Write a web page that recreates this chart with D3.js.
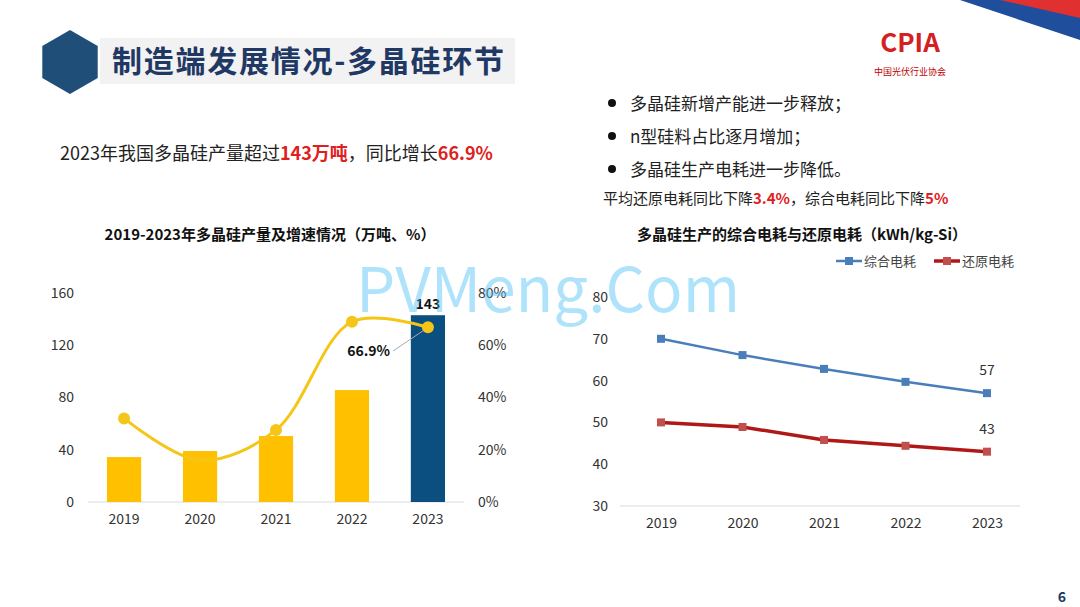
<!DOCTYPE html>
<html><head><meta charset="utf-8">
<script src="https://cdn.jsdelivr.net/npm/d3@7"></script>
<style>
body{margin:0;background:#fff;font-family:"Noto Sans CJK SC","Noto Sans",sans-serif;}
svg text{font-family:"Noto Sans CJK SC","Noto Sans",sans-serif;}
</style></head>
<body><svg id="c" width="1080" height="607"></svg>
<script>
const years = ['2019','2020','2021','2022','2023'];
const output = [34.4, 39, 50.5, 85.7, 143];
const growth = [32, 16, 27.6, 69, 66.9];
const powerTotal = [70, 66.1, 62.8, 59.7, 57];
const powerReduce = [50, 48.9, 45.8, 44.4, 43];
const leftTicks = [0, 40, 80, 120, 160];
const pctTicks = [0, 20, 40, 60, 80];
const rightTicks = [30, 40, 50, 60, 70, 80];

const svg = d3.select('#c');

// header
svg.append('path').attr('d', d3.line()(d3.range(6).map(i => {
  const a = Math.PI / 3 * i + Math.PI / 6;
  return [70 + 32 * Math.cos(a), 62 + 32 * Math.sin(a)];
})) + 'Z').attr('fill', '#1f4e79');
svg.append('rect').attr('x', 100).attr('y', 38).attr('width', 415).attr('height', 46).attr('fill', '#f2f2f2');
svg.append('text').attr('x', 112).attr('y', 72).attr('font-size', 30).attr('font-weight', 'bold')
  .attr('fill', '#1f3864').attr('textLength', 392).text('制造端发展情况-多晶硅环节');
// top-right decoration
svg.append('path').attr('d', 'M960,0 L1080,0 L1080,40 Z').attr('fill', '#1f4e9c');
svg.append('path').attr('d', 'M1000,0 L1080,0 L1080,18 Z').attr('fill', '#e03030');
svg.append('text').attr('x', 910).attr('y', 52).attr('text-anchor', 'middle').attr('font-size', 26)
  .attr('font-weight', 'bold').attr('fill', '#d42020').text('CPIA');
svg.append('text').attr('x', 910).attr('y', 75).attr('text-anchor', 'middle').attr('font-size', 9)
  .attr('fill', '#c00000').text('中国光伏行业协会');
svg.append('text').attr('x', 1062).attr('y', 602).attr('text-anchor', 'middle').attr('font-size', 14)
  .attr('font-weight', 'bold').attr('fill', '#1f3864').text('6');

// headline
const hl = svg.append('text').attr('x', 60).attr('y', 160).attr('font-size', 18).attr('fill', '#222');
hl.append('tspan').text('2023年我国多晶硅产量超过');
hl.append('tspan').attr('fill', '#e02020').attr('font-weight', 'bold').text('143万吨');
hl.append('tspan').text('，同比增长');
hl.append('tspan').attr('fill', '#e02020').attr('font-weight', 'bold').text('66.9%');

// bullets
['多晶硅新增产能进一步释放；', 'n型硅料占比逐月增加；', '多晶硅生产电耗进一步降低。'].forEach((t, i) => {
  svg.append('circle').attr('cx', 612).attr('cy', 103 + i * 33).attr('r', 4).attr('fill', '#111');
  svg.append('text').attr('x', 630).attr('y', 110 + i * 33).attr('font-size', 17).attr('fill', '#222').text(t);
});
const sub = svg.append('text').attr('x', 603).attr('y', 204).attr('font-size', 15).attr('fill', '#222');
sub.append('tspan').text('平均还原电耗同比下降');
sub.append('tspan').attr('fill', '#e02020').attr('font-weight', 'bold').text('3.4%');
sub.append('tspan').text('，综合电耗同比下降');
sub.append('tspan').attr('fill', '#e02020').attr('font-weight', 'bold').text('5%');

// left chart
svg.append('text').attr('x', 270).attr('y', 240).attr('text-anchor', 'middle').attr('font-size', 15)
  .attr('font-weight', 'bold').attr('fill', '#111').text('2019-2023年多晶硅产量及增速情况（万吨、%）');
const x1 = d3.scaleBand().domain(years).range([88, 464]).paddingInner(0.55).paddingOuter(0.25);
const y1 = d3.scaleLinear().domain([0, 160]).range([502, 293]);
const yp = d3.scaleLinear().domain([0, 80]).range([502, 293]);
svg.append('line').attr('x1', 88).attr('x2', 464).attr('y1', 502).attr('y2', 502).attr('stroke', '#d9d9d9');
const axL = svg.append('g').attr('transform', 'translate(80,0)')
  .call(d3.axisLeft(y1).tickValues(leftTicks).tickSize(0).tickPadding(6));
const axP = svg.append('g').attr('transform', 'translate(476,0)')
  .call(d3.axisRight(yp).tickValues(pctTicks).tickSize(0).tickPadding(2).tickFormat(d => d + '%'));
const axX1 = svg.append('g').attr('transform', 'translate(0,502)')
  .call(d3.axisBottom(x1).tickSize(0).tickPadding(12));
[axL, axP, axX1].forEach(g => { g.select('.domain').remove(); g.selectAll('text').attr('font-size', 14).attr('fill', '#333'); });
svg.selectAll('rect.bar').data(output).join('rect').attr('class', 'bar')
  .attr('x', (d, i) => x1(years[i])).attr('width', x1.bandwidth())
  .attr('y', d => y1(d)).attr('height', d => 502 - y1(d))
  .attr('fill', (d, i) => i === 4 ? '#0b4f80' : '#ffc000');
const cx = (d, i) => x1(years[i]) + x1.bandwidth() / 2;
svg.append('path').datum(growth)
  .attr('d', d3.line().x(cx).y(d => yp(d)).curve(d3.curveCatmullRom.alpha(0.5)))
  .attr('fill', 'none').attr('stroke', '#f5c518').attr('stroke-width', 3);
svg.selectAll('circle.g').data(growth).join('circle').attr('class', 'g')
  .attr('cx', cx).attr('cy', d => yp(d)).attr('r', 6).attr('fill', '#f5c518')
  .attr('visibility', (d, i) => i === 1 ? 'hidden' : null);
svg.append('text').attr('x', cx(0, 4)).attr('y', y1(143) - 6).attr('text-anchor', 'middle')
  .attr('font-size', 14).attr('font-weight', 'bold').attr('fill', '#111').text('143');
svg.append('line').attr('x1', 393).attr('y1', 351).attr('x2', cx(0, 4) - 4).attr('y2', yp(66.9) + 3)
  .attr('stroke', '#aaa');
svg.append('text').attr('x', 390).attr('y', 356).attr('text-anchor', 'end')
  .attr('font-size', 14).attr('font-weight', 'bold').attr('fill', '#111').text('66.9%');

// right chart
svg.append('text').attr('x', 802).attr('y', 240).attr('text-anchor', 'middle').attr('font-size', 15)
  .attr('font-weight', 'bold').attr('fill', '#111').text('多晶硅生产的综合电耗与还原电耗（kWh/kg-Si）');
const x2 = d3.scalePoint().domain(years).range([661, 987]);
const y2 = d3.scaleLinear().domain([30, 80]).range([506, 297]);
svg.append('line').attr('x1', 620).attr('x2', 1020).attr('y1', 506).attr('y2', 506).attr('stroke', '#d9d9d9');
const axR = svg.append('g').attr('transform', 'translate(610,0)')
  .call(d3.axisLeft(y2).tickValues(rightTicks).tickSize(0).tickPadding(2));
const axX2 = svg.append('g').attr('transform', 'translate(0,506)')
  .call(d3.axisBottom(x2).tickSize(0).tickPadding(12));
[axR, axX2].forEach(g => { g.select('.domain').remove(); g.selectAll('text').attr('font-size', 14).attr('fill', '#333'); });
const series = [
  { name: '综合电耗', values: powerTotal, color: '#4a7ebb', mark: '#4a7ebb', w: 2.5 },
  { name: '还原电耗', values: powerReduce, color: '#b01818', mark: '#c0504d', w: 3.5 }
];
series.forEach((s, k) => {
  svg.append('path').datum(s.values)
    .attr('d', d3.line().x((d, i) => x2(years[i])).y(d => y2(d)))
    .attr('fill', 'none').attr('stroke', s.color).attr('stroke-width', s.w);
  svg.append('g').selectAll('rect').data(s.values).join('rect')
    .attr('x', (d, i) => x2(years[i]) - 4).attr('y', d => y2(d) - 4)
    .attr('width', 8).attr('height', 8).attr('fill', s.mark);
  svg.append('text').attr('x', x2('2023')).attr('y', y2(s.values[4]) - 18).attr('text-anchor', 'middle')
    .attr('font-size', 14).attr('fill', '#333').text(s.values[4]);
  const lx = 836 + k * 98;
  svg.append('line').attr('x1', lx).attr('x2', lx + 26).attr('y1', 261).attr('y2', 261)
    .attr('stroke', s.color).attr('stroke-width', s.w);
  svg.append('rect').attr('x', lx + 9).attr('y', 257).attr('width', 8).attr('height', 8).attr('fill', s.mark);
  svg.append('text').attr('x', lx + 28).attr('y', 266).attr('font-size', 13).attr('fill', '#444').text(s.name);
});

// watermark (behind-style, faint)
svg.append('text').attr('x', 548).attr('y', 312).attr('text-anchor', 'middle').attr('font-size', 62)
  .attr('fill', '#4fc3f7').attr('opacity', 0.45).attr('pointer-events', 'none').text('PVMeng.Com');
</script></body></html>
